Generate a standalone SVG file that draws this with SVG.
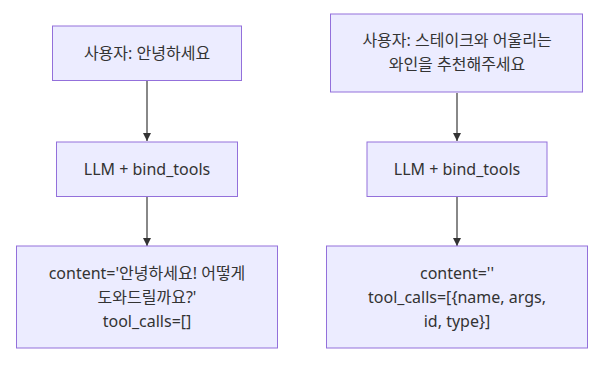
<svg xmlns="http://www.w3.org/2000/svg" width="606" height="367" viewBox="0 0 606 367">
<defs>
<style>
.n rect{fill:#ECECFF;stroke:#9370DB;stroke-width:1}
.n text,text{font-family:"Noto Sans","Noto Sans CJK KR",sans-serif;font-size:16px;fill:#333;text-anchor:middle;dominant-baseline:central}
.e{stroke:#888;stroke-width:2;fill:none}
</style>
<marker id="ah" viewBox="0 0 10 10" refX="10" refY="5" markerWidth="8" markerHeight="8" markerUnits="userSpaceOnUse" orient="auto">
<path d="M0,0L10,5L0,10z" fill="#333"/>
</marker>
</defs>
<g id="edges">
<path class="e" d="M147,81V141" marker-end="url(#ah)"/>
<path class="e" d="M147,197V246" marker-end="url(#ah)"/>
<path class="e" d="M457,93V141" marker-end="url(#ah)"/>
<path class="e" d="M457,197V246" marker-end="url(#ah)"/>
</g>
<g id="L1" class="n"><rect x="52.5" y="26" width="189" height="54.5"/><text x="147" y="52.5">사용자: 안녕하세요</text></g>
<g id="L2" class="n"><rect x="56.5" y="142" width="181" height="54.5"/><text x="147" y="169">LLM + bind_tools</text></g>
<g id="L3" class="n"><rect x="16.5" y="246" width="261" height="102"/><text x="147" y="273">content='안녕하세요! 어떻게</text><text x="147" y="297">도와드릴까요?'</text><text x="147" y="321">tool_calls=[]</text></g>
<g id="R1" class="n"><rect x="330.5" y="14" width="252" height="78"/><text x="457" y="39.5">사용자: 스테이크와 어울리는</text><text x="457" y="63.5">와인을 추천해주세요</text></g>
<g id="R2" class="n"><rect x="367" y="142" width="180" height="54.5"/><text x="457" y="169">LLM + bind_tools</text></g>
<g id="R3" class="n"><rect x="326.5" y="246" width="261" height="102"/><text x="457" y="273">content=''</text><text x="457" y="297">tool_calls=[{name, args,</text><text x="457" y="321">id, type}]</text></g>
</svg>
